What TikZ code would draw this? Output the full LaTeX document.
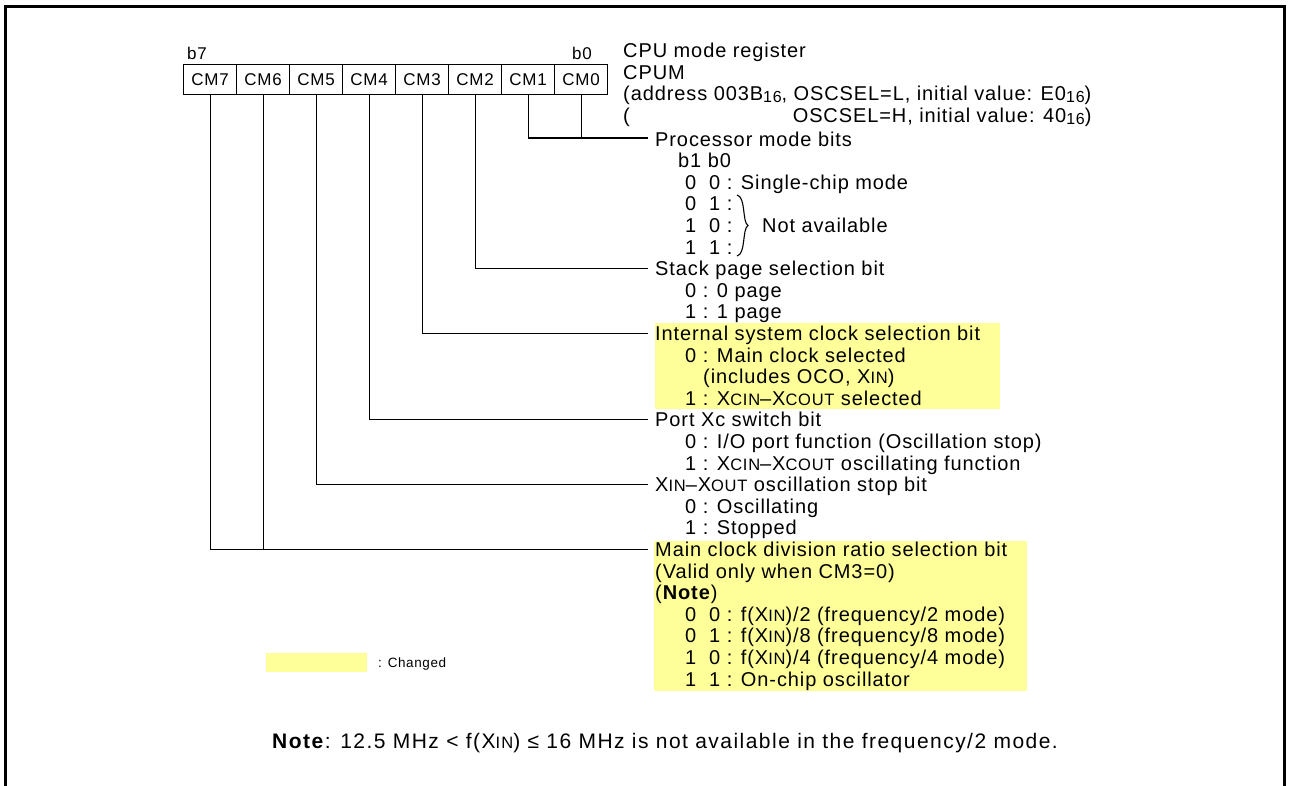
\documentclass[tikz,border=0pt]{standalone}
\usepackage{fontspec}
\setmainfont{Liberation Sans}[LetterSpace=4.5]
\definecolor{hlyellow}{RGB}{255,255,153}
\newcommand\smc[1]{{\fontsize{16.5}{16.5}\selectfont #1}}
\newcommand\hexs[1]{\raisebox{-2pt}{\fontsize{16}{16}\selectfont #1}}
\begin{document}
\begin{tikzpicture}[x=1pt,y=-1pt,
  txt/.style={anchor=base west,inner sep=0pt,font=\fontsize{20}{20}\selectfont},
  small/.style={anchor=base west,inner sep=0pt,font=\fontsize{17}{17}\selectfont},
  reg/.style={draw,line width=1.3pt,minimum width=53pt,minimum height=30pt,inner sep=0pt,font=\fontsize{17}{17}\selectfont,anchor=north west},
  wire/.style={line width=1.3pt},
  hl/.style={fill=hlyellow,draw=none}]
\useasboundingbox (0,0) rectangle (1289,785);
% frame
\draw[line width=3pt] (5,792) -- (5,6) -- (1284,6) -- (1284,792);
% highlights
\fill[hl] (655,323) rectangle (1000,409);
\fill[hl] (654,541) rectangle (1027,691);
\fill[hl] (266,653) rectangle (367,672);
% register
\foreach \n [count=\i from 0] in {7,6,5,4,3,2,1,0}
  \node[reg] (cm\n) at ({183+53*\i},64) {CM\n};
\node[small] (b7) at (187,59) {b7};
\node[small] (b0) at (572,59) {b0};
% header
\node[txt] (t1) at (623,57) {CPU mode register};
\node[txt] (t2) at (623,79) {CPUM};
\node[txt] (t3) at (623,100.6) {(address 003B\hexs{16}, OSCSEL=L, initial value: E0\hexs{16})};
\node[txt] (t4) at (623,122) {(\phantom{address 003B\hexs{16}, }OSCSEL=H, initial value: 40\hexs{16})};
% connector end points
\coordinate (p0) at (648,138);
\coordinate (p6) at (648,268.6);
\coordinate (p9) at (648,333.4);
\coordinate (p13) at (648,419.8);
\coordinate (p16) at (648,484.6);
\coordinate (p19) at (648,549.4);
\draw[wire] (cm1.south) |- (p0);
\draw[wire] (cm0.south) -- (cm0.south |- p0);
\draw[wire] (cm2.south) |- (p6);
\draw[wire] (cm3.south) |- (p9);
\draw[wire] (cm4.south) |- (p13);
\draw[wire] (cm5.south) |- (p16);
\draw[wire] (cm7.south) |- (p19);
\draw[wire] (cm6.south) -- (cm6.south |- p19);
% texts
\node[txt] (l0) at (655,146) {Processor mode bits};
\node[txt] (l1) at (678,167.6) {b1 b0};
\node[txt] (l2) at (685,189.2) {0~~0 : Single-chip mode};
\node[txt] (l3) at (685,210.8) {0~~1 :};
\node[txt] (l4) at (685,232.4) {1~~0 :};
\node[txt] (l5) at (685,254) {1~~1 :};
\draw[line width=1.1pt] (737,195) .. controls (746,197) and (742,222) .. (748,225.5) .. controls (742,229) and (746,254) .. (737,256);
\node[txt] (na) at (762,232.4) {Not available};
\node[txt] (l6) at (655,275.6) {Stack page selection bit};
\node[txt] (l7) at (685,297.2) {0 : 0 page};
\node[txt] (l8) at (685,318.8) {1 : 1 page};
\node[txt] (l9) at (655,340.4) {Internal system clock selection bit};
\node[txt] (l10) at (685,362) {0 : Main clock selected};
\node[txt] (l11) at (703,383.6) {(includes OCO, X\smc{IN})};
\node[txt] (l12) at (685,405.2) {1 : X\smc{CIN}--X\smc{COUT} selected};
\node[txt] (l13) at (655,426.8) {Port Xc switch bit};
\node[txt] (l14) at (685,448.4) {0 : I/O port function (Oscillation stop)};
\node[txt] (l15) at (685,470) {1 : X\smc{CIN}--X\smc{COUT} oscillating function};
\node[txt] (l16) at (655,491.6) {X\smc{IN}--X\smc{OUT} oscillation stop bit};
\node[txt] (l17) at (685,513.2) {0 : Oscillating};
\node[txt] (l18) at (685,534.8) {1 : Stopped};
\node[txt] (l19) at (655,556.4) {Main clock division ratio selection bit};
\node[txt] (l20) at (655,578) {(Valid only when CM3=0)};
\node[txt] (l21) at (655,599.6) {(\textbf{Note})};
\node[txt] (l22) at (685,621.2) {0~~0 : f(X\smc{IN})/2 (frequency/2 mode)};
\node[txt] (l23) at (685,642.8) {0~~1 : f(X\smc{IN})/8 (frequency/8 mode)};
\node[txt] (l24) at (685,664.4) {1~~0 : f(X\smc{IN})/4 (frequency/4 mode)};
\node[txt] (l25) at (685,686) {1~~1 : On-chip oscillator};
% legend
\node[anchor=base west,inner sep=0pt,font=\fontsize{13.5}{13.5}\selectfont] (chg) at (378,667) {: Changed};
% note
\node[anchor=base west,inner sep=0pt,font=\fontsize{21}{21}\selectfont\addfontfeatures{LetterSpace=7}] (note) at (272,748) {\textbf{Note}: 12.5 MHz < f(X\smc{IN}) ≤ 16 MHz is not available in the frequency/2 mode.};
\end{tikzpicture}
\end{document}
